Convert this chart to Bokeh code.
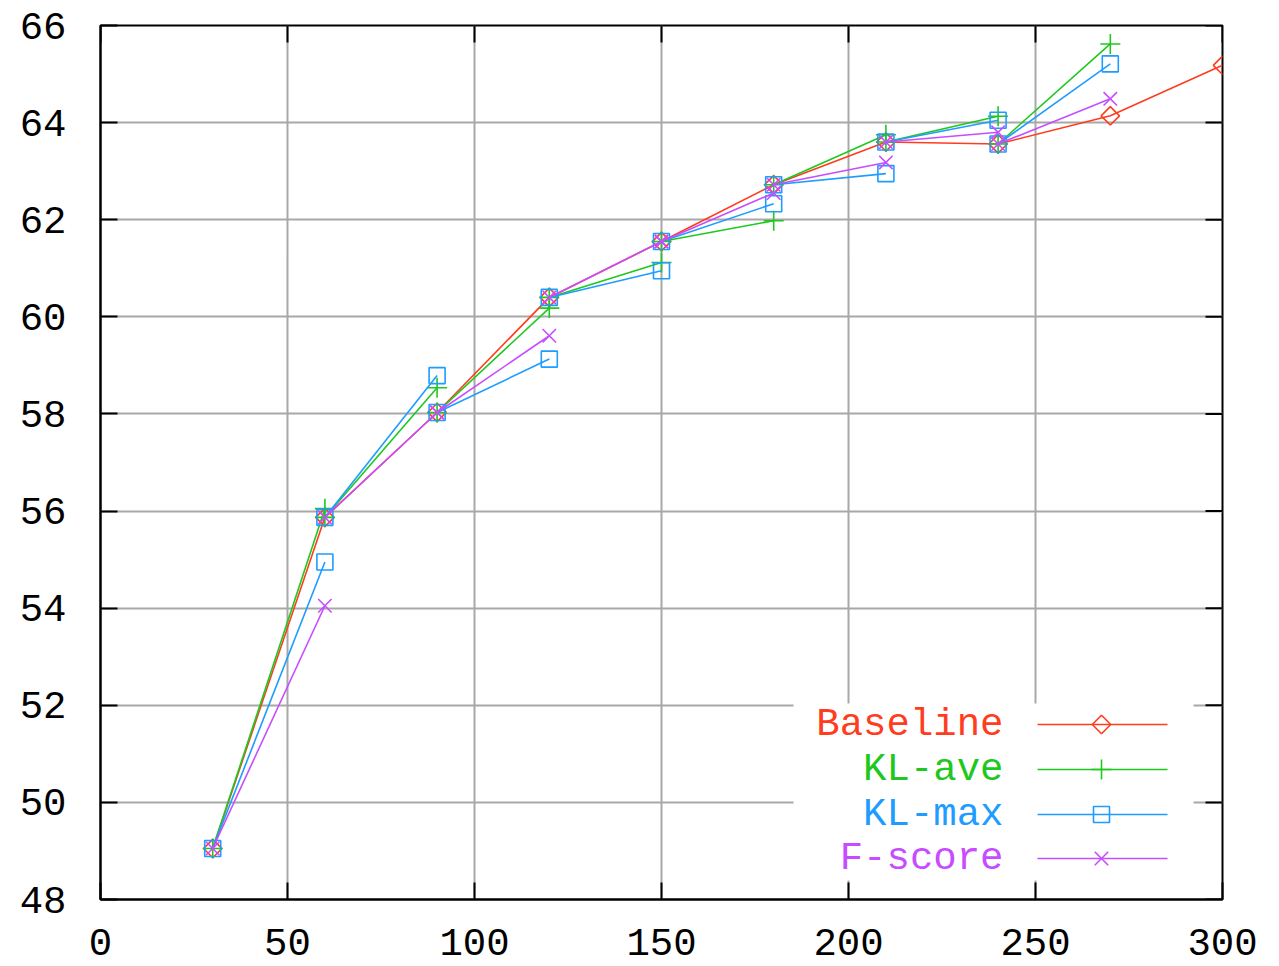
import math
from bokeh.plotting import figure
from bokeh.models import Range1d, FixedTicker
from bokeh.core.properties import value
from bokeh.embed import file_html
from bokeh.resources import INLINE

# ---- data ----
xs = [30, 60, 90, 120, 150, 180, 210, 240, 270, 300]
baseline = [49.05, 55.87, 58.03, 60.40, 61.55, 62.72, 63.60, 63.56, 64.14, 65.18]
# other methods: value reached at the next step, starting from the baseline point of the previous step
step_x = [60, 90, 120, 150, 180, 210, 240, 270]
kl_ave = [56.05, 58.54, 60.18, 61.12, 61.98, 63.75, 64.13, 65.62]
kl_max = [54.95, 58.79, 59.13, 60.95, 62.33, 62.95, 64.05, 65.21]
f_score = [54.05, 58.03, 59.61, 61.55, 62.55, 63.18, 63.80, 64.49]

x_ticks = [0, 50, 100, 150, 200, 250, 300]
y_ticks = [48, 50, 52, 54, 56, 58, 60, 62, 64, 66]

names = ["Baseline", "KL-ave", "KL-max", "F-score"]
colors = ["#ff3c1e", "#1ec81e", "#1e9cff", "#c84cff"]

FONT = "Liberation Mono"
FS = "39px"

X0, X1, Y0, Y1 = 0, 300, 48, 66
FW, FH = 1122, 874  # frame size in px

p = figure(width=1279, height=966, output_backend="svg", toolbar_location=None,
           x_range=Range1d(X0, X1), y_range=Range1d(Y0, Y1),
           min_border_left=100, min_border_right=57, min_border_top=25, min_border_bottom=67)
p.background_fill_color = "white"
p.border_fill_color = "white"
p.outline_line_color = "black"
p.outline_line_width = 2

for ax, tk in ((p.xaxis[0], x_ticks), (p.yaxis[0], y_ticks)):
    ax.ticker = FixedTicker(ticks=tk)
    ax.major_label_text_font = FONT
    ax.major_label_text_font_size = FS
    ax.major_label_text_color = "black"
    ax.major_tick_in = 17
    ax.major_tick_out = 0
    ax.major_tick_line_width = 2
    ax.minor_tick_line_color = None
    ax.axis_line_width = 2
p.yaxis[0].major_label_standoff = 34
p.xaxis[0].major_label_standoff = 29

p.grid.grid_line_color = "#a8a8a8"
p.grid.grid_line_width = 2
p.xgrid.ticker = FixedTicker(ticks=x_ticks)
p.ygrid.ticker = FixedTicker(ticks=y_ticks)

# inner tick marks on the top and right edges (gnuplot style)
tick_px = 17
tx = tick_px * (X1 - X0) / FW
ty = tick_px * (Y1 - Y0) / FH
p.segment(x0=x_ticks, y0=[Y1] * len(x_ticks), x1=x_ticks, y1=[Y1 - ty] * len(x_ticks),
          line_color="black", line_width=2)
p.segment(x0=[X1] * len(y_ticks), y0=y_ticks, x1=[X1 - tx] * len(y_ticks), y1=y_ticks,
          line_color="black", line_width=2)

LW = 1.6

def marker(xv, yv, i):
    c = colors[i]
    if i == 0:
        p.scatter(xv, yv, marker="square", angle=math.pi / 4, size=13,
                  fill_color=None, line_color=c, line_width=LW)
    elif i == 1:
        p.scatter(xv, yv, marker="cross", size=20, line_color=c, line_width=LW)
    elif i == 2:
        p.scatter(xv, yv, marker="square", size=16, fill_color=None,
                  line_color=c, line_width=LW)
    else:
        p.scatter(xv, yv, marker="x", size=19, line_color=c, line_width=LW)

# Baseline: continuous line
p.line(xs, baseline, line_color=colors[0], line_width=LW)
marker(xs, baseline, 0)

# Other methods: segments from baseline at step i to method value at step i+1
for i, vals in ((1, kl_ave), (2, kl_max), (3, f_score)):
    n = len(vals)
    x0 = xs[:n]
    y0 = baseline[:n]
    p.segment(x0=x0, y0=y0, x1=step_x, y1=vals, line_color=colors[i], line_width=LW)
    marker(x0, y0, i)
    marker(step_x, vals, i)

# ---- legend (gnuplot style: text on the left, sample on the right) ----
def dx(px):
    return X0 + (px - 100) * (X1 - X0) / FW

def dy(py):
    return Y0 + (899 - py) * (Y1 - Y0) / FH

p.quad(left=[dx(793)], right=[dx(1193)], bottom=[dy(880)], top=[dy(703)],
       fill_color="white", line_color=None)
rows = [724, 769, 814, 858]
for i, name in enumerate(names):
    yy = dy(rows[i])
    p.text(x=[dx(1003)], y=[yy], text=[name], text_font=value(FONT), text_font_size=FS,
           text_color=colors[i], text_align="right", text_baseline="middle")
    p.line([dx(1037), dx(1167)], [yy, yy], line_color=colors[i], line_width=LW)
    marker([dx(1101)], [yy], i)

open("out.html", "w").write(file_html(p, INLINE))
